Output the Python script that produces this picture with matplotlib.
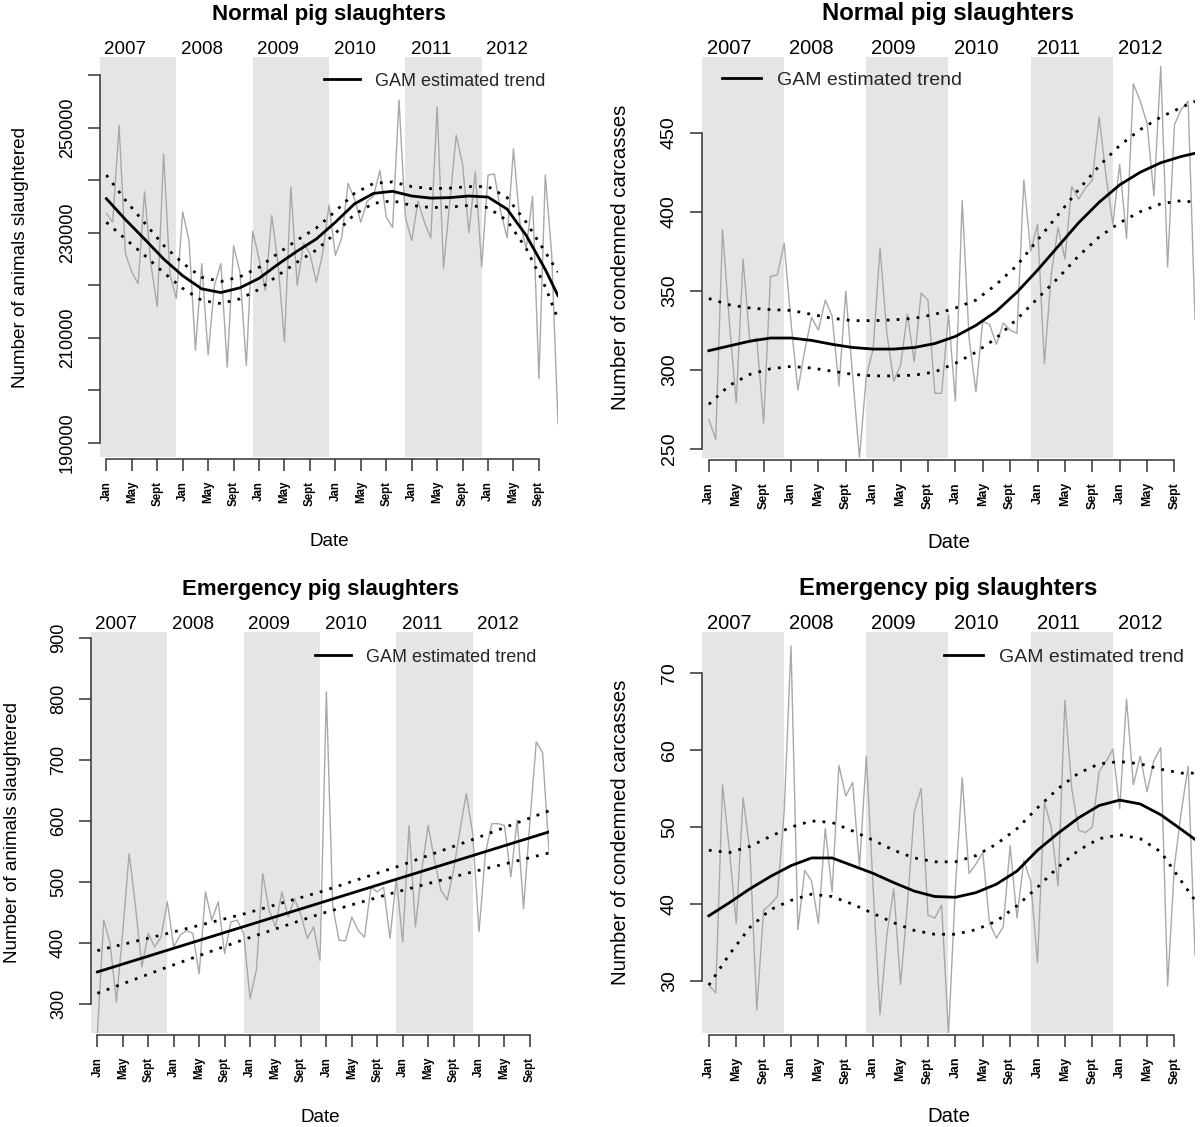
import numpy as np
import matplotlib
matplotlib.use("Agg")
import matplotlib.pyplot as plt
from matplotlib.lines import Line2D
from matplotlib import transforms

plt.rcParams["font.family"] = ["Liberation Sans", "DejaVu Sans"]

# ── data (monthly, Jan 2007 = 1 ... Dec 2012 = 72) ─────────────────────────

months = np.arange(1, 73)
years = ["2007", "2008", "2009", "2010", "2011", "2012"]
tick_months = list(range(1, 70, 4))
tick_names = ["Jan", "May", "Sept"] * 6
shaded = [(0, 12), (24, 36), (48, 60)]

trend_months = [1, 4, 7, 10, 13, 16, 19, 22, 25, 28, 31, 34, 37, 40, 43, 46,
                49, 52, 55, 58, 61, 64, 67, 70, 72]

normal_slaughtered = [
    233700, 232000, 250500, 226000, 222500, 220300, 237800, 224000, 215900, 245000, 222000, 217500,
    234000, 228500, 207600, 224100, 206700, 220000, 224100, 204400, 227500, 222500, 204700, 230300,
    225000, 219000, 233300, 224000, 209200, 238700, 220000, 228000, 226000, 220600, 226000, 235300,
    225700, 229000, 239400, 236500, 232000, 236000, 237000, 241900, 233000, 231000, 255300, 233000,
    228500, 236000, 232000, 229000, 254000, 223200, 236000, 248600, 243000, 230000, 241600, 223500,
    241000, 241200, 234000, 229000, 246000, 232000, 227000, 236900, 202200, 241000, 226000, 193600]
normal_slaughtered_trend = [
    236500, 232500, 228800, 225000, 221800, 219300, 218600, 219500, 221300, 224000, 226500, 228800,
    232000, 235500, 237500, 237900, 237000, 236600, 236700, 237000, 236800, 234500, 229500, 223000,
    218000]
normal_slaughtered_upper = [
    241000, 236200, 231900, 227600, 224200, 221500, 220700, 221600, 223400, 226100, 228600, 230900,
    234100, 237500, 239400, 239700, 238800, 238400, 238500, 238800, 238800, 236700, 232000, 226300,
    222500]
normal_slaughtered_lower = [
    232000, 228800, 225700, 222400, 219400, 217100, 216500, 217400, 219200, 221900, 224400, 226700,
    229900, 233500, 235600, 236100, 235200, 234800, 234900, 235200, 234800, 232300, 227000, 219700,
    213500]

normal_condemned = [
    268.5, 255.7, 388.4, 330, 279, 370, 317, 320, 266, 359, 360, 380,
    330, 287, 312, 333, 325, 344, 334, 289.5, 349.6, 296, 244, 296,
    313, 377, 323, 292.6, 303, 335, 305, 348.5, 344, 285, 285, 335,
    280, 407, 320, 286, 330.6, 328.5, 316, 329.5, 325, 323, 420, 375,
    392, 304, 360, 390, 370, 416, 408, 415, 420, 460, 423, 392,
    430, 383, 481, 470, 456, 410, 492, 365, 455, 465, 470, 332]
normal_condemned_trend = [
    312, 315, 318, 320, 320, 318.5, 316, 314, 313, 313, 314, 316.5, 321, 328, 337, 349,
    363, 378, 393, 406, 417, 425, 431, 435, 437]
normal_condemned_upper = [
    345, 341, 339, 338, 337.5, 335, 332.5, 331, 331, 331.5, 332.5, 335, 339, 344, 354, 366,
    382, 398, 414, 429, 442, 452, 460, 466, 470]
normal_condemned_lower = [
    278, 290, 297, 300.5, 302, 301, 299, 297, 296, 296, 296.5, 298.5, 304, 311, 320, 332,
    345, 358, 372, 384, 393, 400, 405, 407, 406]

emergency_slaughtered = [
    250, 438, 400, 304, 420, 547, 460, 361, 416, 394, 410, 468,
    394, 413, 421, 416, 350, 484, 438, 468, 383, 435, 438, 416,
    309, 356, 514, 454, 427, 484, 443, 473, 446, 408, 427, 372,
    812, 460, 405, 404, 443, 421, 410, 492, 484, 492, 408, 506,
    402, 593, 427, 520, 593, 536, 487, 471, 520, 585, 645, 580,
    419, 547, 596, 596, 593, 509, 602, 457, 600, 730, 712, 550]
emergency_trend_months = [1, 12, 24, 36, 48, 60, 72]
emergency_slaughtered_trend = [353, 388.6, 427.3, 466.1, 504.9, 543.7, 582.5]
emergency_slaughtered_upper = [388, 416, 448, 484, 525, 570, 617]
emergency_slaughtered_lower = [318, 361, 406, 448, 484, 517, 548]

emergency_condemned = [
    29.5, 28.5, 55.5, 47, 37.5, 53.8, 47, 26.3, 39.2, 40, 41, 52,
    73.5, 36.7, 44.4, 43, 37.5, 49.8, 41.6, 58, 54, 55.8, 44.8, 59.2,
    42, 25.7, 36, 42, 29.6, 40, 52, 55, 38.6, 38.2, 39.9, 23.1,
    42, 56.4, 44, 45.2, 46.7, 37.5, 35.6, 37.1, 47.6, 38.2, 45.7, 43,
    32.4, 53.3, 50, 42.4, 66.4, 55, 49.6, 49.3, 50, 57.2, 58.5, 60.1,
    52.4, 66.6, 55.5, 59.2, 54.6, 58.6, 60.3, 29.4, 45, 52, 57.9, 33.4]
emergency_condemned_trend = [
    38.5, 40.2, 42.0, 43.6, 45.0, 46.0, 46.0, 45.0, 44.0, 42.8, 41.7, 41.0, 40.9,
    41.5, 42.6, 44.3, 47.0, 49.2, 51.2, 52.8, 53.5, 53.0, 51.6, 49.7, 48.4]
emergency_condemned_upper = [
    47.0, 46.7, 47.5, 48.8, 50.0, 50.8, 50.6, 49.5, 48.3, 47.0, 46.0, 45.5, 45.5,
    46.3, 47.8, 49.8, 52.5, 55.0, 57.0, 58.2, 58.5, 58.2, 57.5, 57.0, 57.0]
emergency_condemned_lower = [
    29.5, 33.5, 37.0, 39.3, 40.5, 41.3, 41.0, 40.0, 38.8, 37.6, 36.6, 36.1, 36.1,
    36.7, 37.8, 39.8, 42.2, 44.8, 47.0, 48.5, 49.0, 48.5, 46.8, 43.0, 40.5]

# ── figure ─────────────────────────────────────────────────────────────────

W, H = 1200, 1127
fig = plt.figure(figsize=(W / 100, H / 100), dpi=100)


def pts(px):
    return px * 0.72


def draw_panel(box, values, t_months, trend, upper, lower, ylim, yticks,
               labelled, ylabel, title, leg_xy, ylab_off, s):
    left, top, width, bottom = box
    height = bottom - top
    ax = fig.add_axes([left / W, 1 - bottom / H, width / W, height / H])

    for a, b in shaded:
        ax.axvspan(a, b, color="#e5e5e5", lw=0, zorder=0)
    ax.plot(months, values, color="#a8a8a8", lw=1.0, zorder=2)
    ax.plot(t_months, trend, color="black", lw=2.0, zorder=3)
    for band in (upper, lower):
        ax.plot(t_months, band, color="black", lw=2.0, dashes=(1, 2.6), zorder=3)

    ax.set_xlim(0, 72)
    ax.set_ylim(*ylim)

    for side in ("top", "right"):
        ax.spines[side].set_visible(False)
    for side in ("left", "bottom"):
        ax.spines[side].set_color("#333333")
        ax.spines[side].set_linewidth(1.1)
    ax.spines["bottom"].set_position(("outward", pts(2)))
    ax.spines["bottom"].set_bounds(tick_months[0], tick_months[-1])
    ax.spines["left"].set_bounds(yticks[0], yticks[-1])

    ax.set_xticks(tick_months)
    ax.set_xticklabels(tick_names, rotation=90, fontweight="bold", fontsize=8.3 * s)
    ax.set_yticks(yticks)
    ax.set_yticklabels([str(v) if v in labelled else "" for v in yticks],
                       rotation=90, fontsize=13 * s)
    for lbl in ax.get_yticklabels():
        lbl.set_va("center")
    ax.tick_params(axis="both", color="#333333", width=1.1, length=pts(12))
    ax.tick_params(axis="x", pad=pts(10))
    ax.tick_params(axis="y", pad=pts(12))

    ax.set_ylabel(ylabel, fontsize=13.6 * s, va="center")
    ax.yaxis.set_label_coords(-ylab_off / width, 0.5)
    ax.set_xlabel("Date", fontsize=13.6 * s, va="center")
    ax.xaxis.set_label_coords(0.5, -84 / height)

    t_title = transforms.offset_copy(ax.transAxes, fig=fig, y=pts(37), units="points")
    ax.text(0.5, 1, title, transform=t_title, ha="center", va="baseline",
            fontsize=16 * s, fontweight="bold")

    t_year = transforms.offset_copy(
        transforms.blended_transform_factory(ax.transData, ax.transAxes),
        fig=fig, y=pts(3.3), units="points")
    for i, yr in enumerate(years):
        ax.text(12 * i + 4, 1, yr, transform=t_year, ha="center", va="baseline",
                fontsize=13.5 * s)

    handle = Line2D([], [], color="black", lw=2.0)
    leg = ax.legend([handle], ["GAM estimated trend"], loc="center left",
                    bbox_to_anchor=(leg_xy[0] / width, 1 - leg_xy[1] / height),
                    frameon=False, fontsize=13 * s, handlelength=2.0,
                    handletextpad=0.85, borderpad=0, borderaxespad=0)
    for txt in leg.get_texts():
        txt.set_color("#262626")
    return ax


draw_panel((100, 57, 458, 457), normal_slaughtered, trend_months,
           normal_slaughtered_trend, normal_slaughtered_upper, normal_slaughtered_lower,
           (187250, 263500), list(range(190000, 260001, 10000)),
           [190000, 210000, 230000, 250000],
           "Number of animals slaughtered", "Normal pig slaughters",
           (224, 24), 79, 1.0)

draw_panel((702, 57, 493, 458), normal_condemned, trend_months,
           normal_condemned_trend, normal_condemned_upper, normal_condemned_lower,
           (244, 498), list(range(250, 451, 50)), list(range(250, 451, 50)),
           "Number of condemned carcasses", "Normal pig slaughters",
           (20, 23), 82, 1.077)

draw_panel((91, 632, 458, 1033), emergency_slaughtered, emergency_trend_months,
           emergency_slaughtered_trend, emergency_slaughtered_upper,
           emergency_slaughtered_lower,
           (253, 910), list(range(300, 901, 100)), list(range(300, 901, 100)),
           "Number of animals slaughtered", "Emergency pig slaughters",
           (224, 25), 78.5, 1.0)

draw_panel((702, 632, 493, 1033), emergency_condemned, trend_months,
           emergency_condemned_trend, emergency_condemned_upper, emergency_condemned_lower,
           (23.3, 75.3), list(range(30, 71, 10)), list(range(30, 71, 10)),
           "Number of condemned carcasses", "Emergency pig slaughters",
           (242, 25), 82, 1.077)

fig.savefig("out.png", dpi=100)
